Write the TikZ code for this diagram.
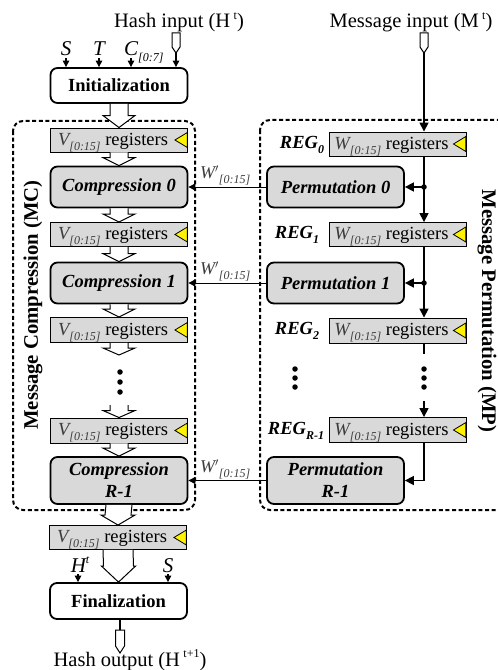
\documentclass[tikz,border=0pt]{standalone}
\usepackage{fontspec}
\setmainfont{Liberation Serif}
\usetikzlibrary{arrows.meta,calc}
\definecolor{regfill}{RGB}{217,217,217}
\definecolor{txtgray}{RGB}{60,60,60}
\newcommand\sbx[1]{\raisebox{-0.28em}{\fontsize{12bp}{12bp}\selectfont #1}}
\newcommand\spx[1]{\raisebox{0.42em}{\fontsize{12bp}{12bp}\selectfont #1}}
\newcommand\vreg[1]{\hspace*{-12bp}{\color{txtgray}\itshape #1\sbx{[0:15]}} registers}
\newcommand\yel[1]{\draw[fill=yellow, line width=0.8bp] ([xshift=-0.6bp,yshift=7.5bp]#1.east) -- ([xshift=-13bp]#1.east) -- ([xshift=-0.6bp,yshift=-7.5bp]#1.east) -- cycle;}
\newcommand\barr[5]{\draw[barrow] ([xshift=-#3bp]#1) -- ([xshift=-#3bp,yshift=#5bp]#2) -- ([xshift=-#4bp,yshift=#5bp]#2) -- (#2) -- ([xshift=#4bp,yshift=#5bp]#2) -- ([xshift=#3bp,yshift=#5bp]#2) -- ([xshift=#3bp]#1);}
\begin{document}
\begin{tikzpicture}[x=1bp,y=-1bp,
  reg/.style={draw, line width=0.9bp, fill=regfill, minimum width=137bp, minimum height=24bp, inner sep=0pt, text height=13bp, text depth=3bp, font=\fontsize{18.5bp}{20bp}\selectfont},
  comp/.style={draw, line width=1.8bp, rounded corners=7bp, fill=regfill, minimum width=137bp, inner sep=0pt, font=\fontsize{18.5bp}{22bp}\selectfont\bfseries\itshape, align=center},
  wbox/.style={draw, line width=1.8bp, rounded corners=7bp, fill=white, minimum width=137bp, inner sep=0pt, font=\fontsize{18.5bp}{22bp}\selectfont\bfseries},
  arr/.style={line width=1.2bp, -{Triangle[length=6.5bp,width=6.5bp]}},
  marr/.style={line width=1.6bp, -{Triangle[length=9bp,width=9bp]}},
  warr/.style={line width=1bp, -{Triangle[length=7bp,width=7bp]}},
  barrow/.style={fill=white, line width=1bp, line join=miter},
  dbox/.style={draw, line width=2bp, dash pattern=on 4bp off 2.6bp, rounded corners=10bp},
  lab/.style={font=\fontsize{20.5bp}{22bp}\selectfont, inner sep=0pt},
  ilab/.style={font=\fontsize{21bp}{22bp}\selectfont\itshape, inner sep=0pt},
  wlab/.style={font=\fontsize{18bp}{20bp}\selectfont\itshape, text=txtgray, inner sep=1pt},
  reglab/.style={font=\fontsize{18.5bp}{20bp}\selectfont\bfseries\itshape, inner sep=0pt},
  side/.style={font=\fontsize{20.7bp}{22bp}\selectfont\bfseries, inner sep=0pt},
  dot/.style={circle, fill=black, inner sep=0pt, minimum size=5.5bp}
]
\useasboundingbox (0,0) rectangle (498,670);
\clip (0,0) rectangle (498,670);

% dashed group boxes
\draw[dbox] (13,121) rectangle (195,510);
\draw[dbox] (260,120) rectangle (530,510);
\node[side, rotate=90] (mcl) at (33,305) {Message Compression (MC)};
\node[side, rotate=-90] (mpl) at (487,311) {Message Permutation (MP)};

% top labels
\node[lab, anchor=base] (hinl) at (179,28) {Hash input (H\,\spx{t})};
\node[lab, anchor=base] (minl) at (411,28) {Message input (M\,\spx{t})};
\node[ilab, anchor=base] (lS) at (66,56) {S};
\node[ilab, anchor=base] (lT) at (99,56) {T};
\node[ilab, anchor=base west] (lC) at (124,56) {C\sbx{[0:7]}};

% MC column
\node[wbox, minimum height=35bp] (init) at (119,85.5) {Initialization};
\node[reg, minimum height=24bp] (vr0) at (119,140) {\vreg{V}};
\node[comp, minimum height=41bp] (c0) at (119,187) {Compression 0};
\node[reg, minimum height=24bp] (vr1) at (119,234.5) {\vreg{V}};
\node[comp, minimum height=41bp] (c1) at (119,283) {Compression 1};
\node[reg, minimum height=25bp] (vr2) at (119,330) {\vreg{V}};
\node[reg, minimum height=25bp] (vr3) at (119,430.5) {\vreg{V}};
\node[comp, minimum height=47bp] (cR) at (119,480.5) {Compression\\R-1};
\node[reg, minimum height=24bp] (vr4) at (118,537.5) {\vreg{V}};
\node[wbox, minimum height=36bp] (fin) at (118.5,601) {Finalization};
\foreach \r in {vr0,vr1,vr2,vr3,vr4} {\yel{\r}}

% MP column
\node[reg, minimum height=24bp] (wr0) at (397.5,144) {\vreg{W}};
\node[comp, minimum height=41bp] (p0) at (335.5,187) {Permutation 0};
\node[reg, minimum height=24bp] (wr1) at (397.5,234.5) {\vreg{W}};
\node[comp, minimum height=41bp] (p1) at (335.5,283) {Permutation 1};
\node[reg, minimum height=25bp] (wr2) at (397.5,330.5) {\vreg{W}};
\node[reg, minimum height=25bp] (wrR) at (397.5,430) {\vreg{W}};
\node[comp, minimum height=47bp] (pR) at (335.5,480.5) {Permutation\\R-1};
\foreach \r in {wr0,wr1,wr2,wrR} {\yel{\r}}
\node[reglab] (rg0) at (302,145) {REG\sbx{0}};
\node[reglab] (rg1) at (297,235) {REG\sbx{1}};
\node[reglab] (rg2) at (297,331) {REG\sbx{2}};
\node[reglab] (rgR) at (296,431) {REG\sbx{R-1}};

% input / output pointers
\draw[line width=1bp, fill=white] (172,33) -- (180,33) -- (180,47) -- (176,53) -- (172,47) -- cycle;
\coordinate (hin) at (176,53);
\draw[arr] (hin) -- (hin |- init.north);
\draw[line width=1bp, fill=white] (420,33) -- (428,33) -- (428,47) -- (424,53) -- (420,47) -- cycle;
\coordinate (min) at (424,53);
\draw[line width=1bp, fill=white] (115.5,630) -- (124.5,630) -- (124.5,646) -- (120,653) -- (115.5,646) -- cycle;
\coordinate (hout) at (120,630);
\draw[line width=1.2bp] (hout |- fin.south) -- (hout);
\node[lab, anchor=base] (houtl) at (130,666) {Hash output (H\,\spx{t+1})};

% S T C arrows
\coordinate (sA) at (66,58);
\coordinate (tA) at (99,58);
\coordinate (cA) at (131,58);
\draw[arr] (sA) -- (sA |- init.north);
\draw[arr] (tA) -- (tA |- init.north);
\draw[arr] (cA) -- (cA |- init.north);

% finalization side inputs
\node[ilab, anchor=base] (lH) at (80,572) {H\spx{t}};
\node[ilab, anchor=base] (lS2) at (168,572) {S};
\coordinate (hA) at (78,574);
\coordinate (s2A) at (168,574);
\draw[arr] (hA) -- (hA |- fin.north);
\draw[arr] (s2A) -- (s2A |- fin.north);

% block arrows (MC data path)
\barr{init.south}{vr0.north}{9}{16}{12}
\barr{vr0.south}{c0.north}{9}{16}{8}
\barr{c0.south}{vr1.north}{9}{16}{8}
\barr{vr1.south}{c1.north}{9}{16}{8}
\barr{c1.south}{vr2.north}{9}{16}{8}
\coordinate (da) at (119,355);
\coordinate (db) at (119,405);
\barr{vr2.south}{da}{9}{16}{7}
\barr{db}{vr3.north}{9}{16}{7}
\barr{vr3.south}{cR.north}{9}{16}{8}
\barr{cR.south}{vr4.north}{13}{17}{10}
\barr{vr4.south}{fin.north}{15}{17}{16}

% MC dots
\node[dot] (m1) at (120,372) {};
\node[dot] (m2) at (120,382) {};
\node[dot] (m3) at (120,392) {};

% MP register chain
\draw[marr] (min) -- (min |- wr0.north);
\coordinate (j0) at (min |- p0.east);
\coordinate (j1) at (min |- p1.east);
\draw[marr] (min |- wr0.south) -- (min |- wr1.north);
\draw[marr] (min |- wr1.south) -- (min |- wr2.north);
\draw[marr] (j0) -- (p0.east);
\draw[marr] (j1) -- (p1.east);
\node[dot] at (j0) {};
\node[dot] at (j1) {};
\coordinate (e2) at (424,354);
\coordinate (e3) at (424,401);
\draw[line width=1.6bp] (min |- wr2.south) -- (e2);
\draw[marr] (e3) -- (min |- wrR.north);
\draw[marr] (min |- wrR.south) |- (pR.east);
\node[dot] (q1) at (424,369) {};
\node[dot] (q2) at (424,378) {};
\node[dot] (q3) at (424,387) {};
\node[dot] (r1) at (295,369) {};
\node[dot] (r2) at (295,378) {};
\node[dot] (r3) at (295,387) {};

% W' connections
\draw[warr] (p0.west) -- node[wlab, above, xshift=-2bp] (w0) {W$'$\sbx{[0:15]}} (c0.east);
\draw[warr] (p1.west) -- node[wlab, above, xshift=-2bp] (w1) {W$'$\sbx{[0:15]}} (c1.east);
\draw[warr] (pR.west) -- node[wlab, above, xshift=-2bp] (w2) {W$'$\sbx{[0:15]}} (cR.east);
\end{tikzpicture}
\end{document}
